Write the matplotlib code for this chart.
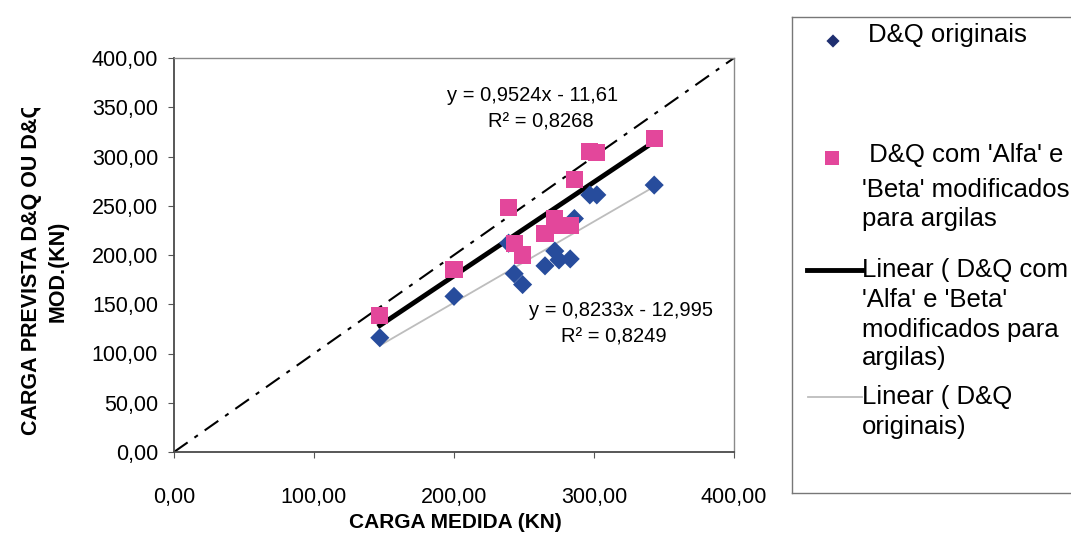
import matplotlib
matplotlib.use("Agg")
import matplotlib.pyplot as plt
from matplotlib.ticker import FuncFormatter
from matplotlib.transforms import Bbox
import numpy as np

plt.rcParams['font.family'] = ['Liberation Sans', 'DejaVu Sans']

# Measured load (kN) and predicted loads for each method
carga_medida = [147, 200, 239, 243, 249, 265, 272, 275, 283, 286, 297, 302, 343]
dq_originais = [116, 158, 212, 181, 170, 189, 204, 195, 196, 237, 261, 261, 271]
dq_modificados = [139, 185, 248, 212, 200, 222, 237, 230, 230, 277, 305, 304, 318]

# Linear trend coefficients (slope, intercept, R²)
fit_mod = (0.9524, -11.61, 0.8268)
fit_orig = (0.8233, -12.995, 0.8249)

ticks = [0, 50, 100, 150, 200, 250, 300, 350, 400]
xticks = [0, 100, 200, 300, 400]

W, H = 1071, 537
fig = plt.figure(figsize=(W / 100, H / 100), dpi=100)
fig.patch.set_facecolor('white')

ax = fig.add_axes([174 / W, (H - 452) / H, (734 - 174) / W, (452 - 58) / H])
ax.set_xlim(0, 400)
ax.set_ylim(0, 400)

fmt = FuncFormatter(lambda v, p: f"{v:.2f}".replace('.', ','))
ax.set_xticks(xticks)
ax.set_yticks(ticks)
ax.xaxis.set_major_formatter(fmt)
ax.yaxis.set_major_formatter(fmt)
ax.tick_params(axis='y', labelsize=15.5, length=4, width=0.8, pad=7.5, color='#555555')
ax.tick_params(axis='x', labelsize=15.5, length=4, width=0.8, pad=21, color='#555555')

for side in ['left', 'bottom']:
    ax.spines[side].set_color('#4a4a4a')
    ax.spines[side].set_linewidth(1.3)
for side in ['top', 'right']:
    ax.spines[side].set_color('#8a8a8a')
    ax.spines[side].set_linewidth(1.0)

# 1:1 reference line
ax.plot([0, 400], [0, 400], color='black', lw=1.5, dashes=(8, 4, 2, 4), zorder=2)

# Trend lines over the data range
xr = np.array([min(carga_medida), max(carga_medida)])
ax.plot(xr, fit_mod[0] * xr + fit_mod[1], color='black', lw=3.5, zorder=3)
ax.plot(xr, fit_orig[0] * xr + fit_orig[1], color='#bdbdbd', lw=1.3, zorder=3)

blue = '#274c9c'
pink = '#e3479b'
ax.scatter(carga_medida, dq_originais, marker='D', s=95, color=blue,
           edgecolors='none', zorder=4)
ax.scatter(carga_medida, dq_modificados, marker='s', s=150, color=pink,
           edgecolors='none', zorder=5)

def eq_text(fit):
    s = f"y = {fit[0]:.4f}x - {abs(fit[1]):g}".replace('.', ',')
    r = f"R² = {fit[2]:.4f}".replace('.', ',')
    return s, r

s1, r1 = eq_text(fit_mod)
s2, r2 = eq_text(fit_orig)
ax.text(256, 362, s1, fontsize=14.5, ha='center', va='center', zorder=6)
ax.text(262, 335, r1, fontsize=14.5, ha='center', va='center', zorder=6)
ax.text(319, 144, s2, fontsize=14.5, ha='center', va='center', zorder=6)
ax.text(314, 117, r2, fontsize=14.5, ha='center', va='center', zorder=6)

# Axis titles
fig.text(455 / W, (H - 523) / H, 'CARGA MEDIDA (KN)', fontsize=15,
         fontweight='bold', ha='center', va='center')
yl1 = fig.text(32 / W, (H - 435) / H, 'CARGA PREVISTA D&Q OU D&Q',
               fontsize=15.5, fontweight='bold', rotation=90,
               ha='center', va='bottom')
yl1.set_clip_box(Bbox.from_extents(0, 0, 200, H - 108))
yl1.set_clip_on(True)
fig.text(58 / W, (H - 271) / H, 'MOD.(KN)', fontsize=15.5, fontweight='bold',
         rotation=90, ha='center', va='center')

# Legend panel
lg = fig.add_axes([792 / W, (H - 493) / H, (1080 - 792) / W, (493 - 17) / H])
lg.set_xlim(792, 1080)
lg.set_ylim(493, 17)
lg.set_xticks([])
lg.set_yticks([])
for sp in lg.spines.values():
    sp.set_color('#777777')
    sp.set_linewidth(1.0)
lg.patch.set_facecolor('white')

lfs = 18.5
lg.scatter([833], [41], marker='D', s=45, color='#1f2f70', edgecolors='none')
lg.text(868, 35, 'D&Q originais', fontsize=lfs, va='center', ha='left')

lg.scatter([832], [158], marker='s', s=110, color=pink, edgecolors='none')
for y, t in [(155, " D&Q com 'Alfa' e"), (190, "'Beta' modificados"), (219, "para argilas")]:
    lg.text(862, y, t, fontsize=lfs, va='center', ha='left')

lg.plot([807, 862], [270, 270], color='black', lw=3.5)
for y, t in [(270, "Linear ( D&Q com"), (300, "'Alfa' e 'Beta'"),
             (330, "modificados para"), (358, "argilas)")]:
    lg.text(862, y, t, fontsize=lfs, va='center', ha='left')

lg.plot([808, 862], [397, 397], color='#bdbdbd', lw=1.3)
for y, t in [(397, "Linear ( D&Q"), (427, "originais)")]:
    lg.text(862, y, t, fontsize=lfs, va='center', ha='left')

fig.savefig('out.png', dpi=100)
